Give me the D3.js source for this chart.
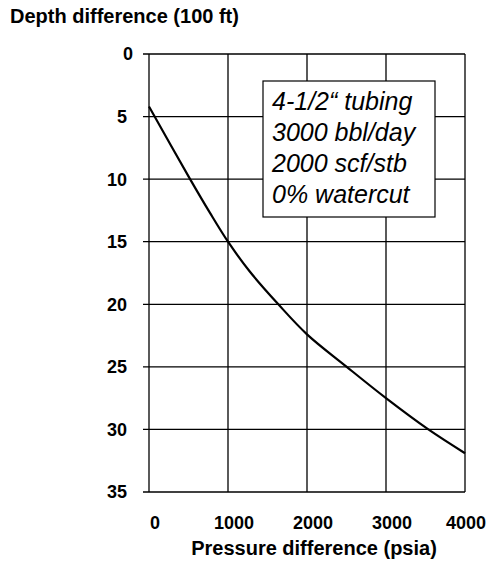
<!DOCTYPE html>
<html>
<head>
<meta charset="utf-8">
<script src="https://cdn.jsdelivr.net/npm/d3@7"></script>
<style>
  body { margin: 0; background: #fff; }
  text { font-family: Arial, "Liberation Sans", sans-serif; }
</style>
</head>
<body>
<div class="canvas"></div>
<script>
// curve: pressure difference (psia) vs depth difference (100 ft)
const pressure = [0, 520, 772, 1000, 1278, 1637, 2000, 2503, 3000, 3536, 4000];
const depth = [4.2, 10, 12.7, 15, 17.4, 20, 22.4, 25, 27.5, 30, 31.9];

const xTicks = [0, 1000, 2000, 3000, 4000];
const yTicks = [0, 5, 10, 15, 20, 25, 30, 35];
const notes = ['4-1/2“ tubing', '3000 bbl/day', '2000 scf/stb', '0% watercut'];

const svg = d3.select('.canvas')
  .append('svg')
  .attr('width', 489)
  .attr('height', 561);

const x = d3.scaleLinear().domain([0, 4000]).range([149, 465]);
const y = d3.scaleLinear().domain([0, 35]).range([54, 492]);

const graph = svg.append('g');

// horizontal grid, sticking out left as ticks
graph.selectAll('.hgrid')
  .data(yTicks)
  .enter().append('line')
  .attr('class', 'hgrid')
  .attr('x1', x(0) - 6)
  .attr('x2', x(4000))
  .attr('y1', d => y(d))
  .attr('y2', d => y(d))
  .attr('stroke', '#000')
  .attr('stroke-width', 1.3);

// vertical grid
graph.selectAll('.vgrid')
  .data(xTicks)
  .enter().append('line')
  .attr('class', 'vgrid')
  .attr('x1', d => x(d))
  .attr('x2', d => x(d))
  .attr('y1', y(0))
  .attr('y2', y(35))
  .attr('stroke', '#000')
  .attr('stroke-width', 1.3);

// y tick labels
graph.selectAll('.ylab')
  .data(yTicks)
  .enter().append('text')
  .attr('class', 'ylab')
  .attr('x', d => d === 0 ? 133 : 127)
  .attr('y', d => y(d))
  .attr('dy', '0.36em')
  .attr('text-anchor', 'end')
  .attr('font-size', 18)
  .attr('font-weight', 'bold')
  .text(d => d);

// x tick labels (last one kept inside the frame)
graph.selectAll('.xlab')
  .data(xTicks)
  .enter().append('text')
  .attr('class', 'xlab')
  .attr('x', d => Math.min(x(d) + 6, 466))
  .attr('y', 529)
  .attr('text-anchor', 'middle')
  .attr('font-size', 18)
  .attr('font-weight', 'bold')
  .text(d => d);

// the curve
const line = d3.line()
  .x(d => x(d[0]))
  .y(d => y(d[1]))
  .curve(d3.curveCatmullRom.alpha(0.5));

graph.append('path')
  .datum(d3.zip(pressure, depth))
  .attr('fill', 'none')
  .attr('stroke', '#000')
  .attr('stroke-width', 2.2)
  .attr('d', line);

// note box
const box = graph.append('g');
box.append('rect')
  .attr('x', 263)
  .attr('y', 81)
  .attr('width', 172)
  .attr('height', 136)
  .attr('fill', '#fff')
  .attr('stroke', '#000')
  .attr('stroke-width', 1.2);

box.selectAll('text')
  .data(notes)
  .enter().append('text')
  .attr('x', 272)
  .attr('y', (d, i) => 110 + i * 31)
  .attr('font-size', 25)
  .attr('font-style', 'italic')
  .text(d => d);

// axis titles
svg.append('text')
  .attr('x', 10)
  .attr('y', 22.5)
  .attr('font-size', 20)
  .attr('font-weight', 'bold')
  .text('Depth difference (100 ft)');

svg.append('text')
  .attr('x', 314)
  .attr('y', 555)
  .attr('text-anchor', 'middle')
  .attr('font-size', 20)
  .attr('font-weight', 'bold')
  .text('Pressure difference (psia)');
</script>
</body>
</html>
